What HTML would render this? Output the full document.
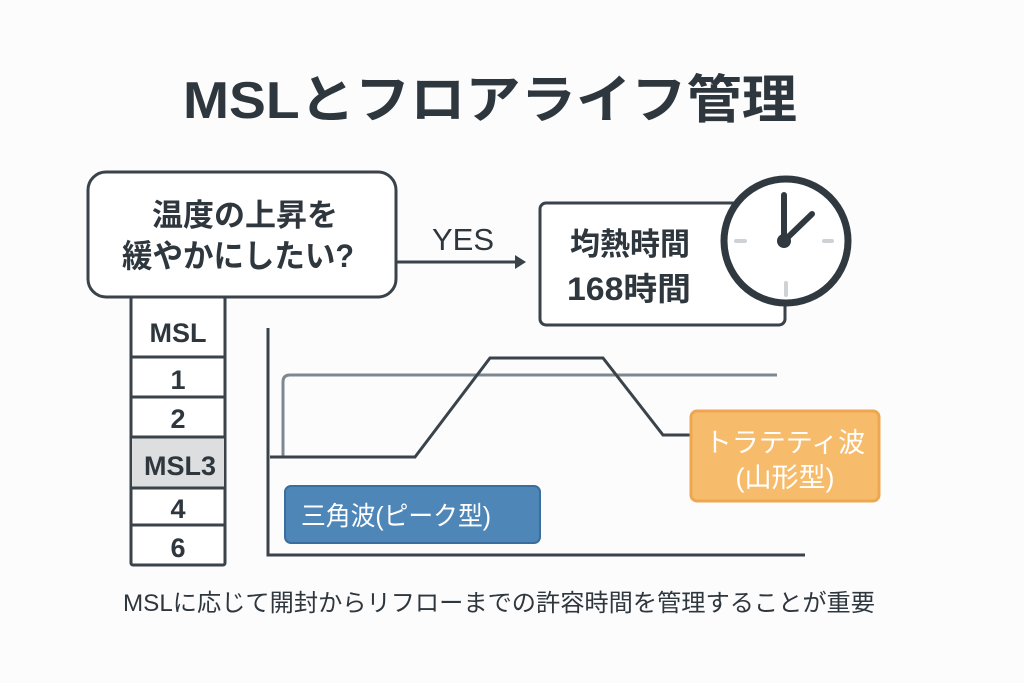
<!DOCTYPE html>
<html><head><meta charset="utf-8"><style>
body{margin:0;background:#fff}
svg{display:block}
text{font-family:"Liberation Sans","Noto Sans CJK JP",sans-serif;fill:#2f373e}
</style></head><body>
<svg width="1024" height="683" viewBox="0 0 1024 683">
<rect width="1024" height="683" fill="#fcfcfd"/>
<text x="490" y="118" font-size="52" font-weight="bold" text-anchor="middle" fill="#333d45" textLength="614" lengthAdjust="spacingAndGlyphs">MSLとフロアライフ管理</text>
<rect x="88" y="172" width="308" height="125" rx="18" fill="#fff" stroke="#3a424a" stroke-width="3"/>
<text x="245" y="226" font-size="31" font-weight="bold" text-anchor="middle">温度の上昇を</text>
<text x="238" y="267" font-size="32" font-weight="bold" text-anchor="middle" textLength="232" lengthAdjust="spacingAndGlyphs">緩やかにしたい?</text>
<line x1="396" y1="262" x2="518" y2="262" stroke="#3a424a" stroke-width="3"/>
<polygon points="526,262 515,255 515,269" fill="#3a424a"/>
<text x="463" y="250" font-size="31" text-anchor="middle">YES</text>
<g stroke="#3a424a" stroke-width="3">
<rect x="131" y="297" width="94" height="268" fill="#fff" rx="2"/>
<rect x="132" y="437" width="92" height="51" fill="#dcdee0" stroke="none"/>
<line x1="131" y1="357" x2="225" y2="357"/><line x1="131" y1="397" x2="225" y2="397"/>
<line x1="131" y1="437" x2="225" y2="437"/><line x1="131" y1="488" x2="225" y2="488"/>
<line x1="131" y1="525" x2="225" y2="525"/>
</g>
<g font-size="27" text-anchor="middle" font-weight="bold">
<text x="178" y="342">MSL</text>
<text x="178" y="389">1</text><text x="178" y="428">2</text>
<text x="180" y="475">MSL3</text><text x="178" y="518">4</text><text x="178" y="557">6</text>
</g>
<rect x="540" y="203" width="245" height="122" rx="6" fill="#fff" stroke="#3a424a" stroke-width="3"/>
<text x="570" y="255" font-size="31" font-weight="bold" textLength="120" lengthAdjust="spacingAndGlyphs">均熱時間</text>
<text x="567" y="300" font-size="32" font-weight="bold" textLength="124" lengthAdjust="spacingAndGlyphs">168時間</text>
<circle cx="786" cy="241" r="62" fill="#fff" stroke="#303940" stroke-width="7"/>
<g stroke="#cfd2d4" stroke-width="4" stroke-linecap="round">
<line x1="736" y1="241" x2="745" y2="241"/><line x1="824" y1="241" x2="832" y2="241"/>
<line x1="786" y1="283" x2="786" y2="295"/>
</g>
<g stroke="#303940" stroke-width="6" stroke-linecap="round">
<line x1="784" y1="241" x2="784" y2="195"/><line x1="784" y1="241" x2="812" y2="214"/>
</g>
<circle cx="784" cy="241" r="7" fill="#303940"/>
<path d="M283 457 V382 Q283 375 290 375 H777" fill="none" stroke="#7d8890" stroke-width="3"/>
<path d="M268 328 V555 H805" fill="none" stroke="#3a424a" stroke-width="3"/>
<path d="M270 457 H415 L490 358 H603 L663 435 H692" fill="none" stroke="#3a424a" stroke-width="3"/>
<rect x="285" y="486" width="255" height="57" rx="6" fill="#4f86b8" stroke="#3a6e9f" stroke-width="2"/>
<text x="396" y="525" font-size="26" text-anchor="middle" style="fill:#fff" textLength="190" lengthAdjust="spacingAndGlyphs">三角波(ピーク型)</text>
<rect x="691" y="411" width="188" height="90" rx="6" fill="#f7bc6b" stroke="#eea650" stroke-width="3"/>
<text x="785" y="452" font-size="27" text-anchor="middle" style="fill:#fff">トラテティ波</text>
<text x="785" y="487" font-size="27" text-anchor="middle" style="fill:#fff">(山形型)</text>
<text x="499" y="611" font-size="24" text-anchor="middle" textLength="752" lengthAdjust="spacingAndGlyphs">MSLに応じて開封からリフローまでの許容時間を管理することが重要</text>
</svg>
</body></html>
